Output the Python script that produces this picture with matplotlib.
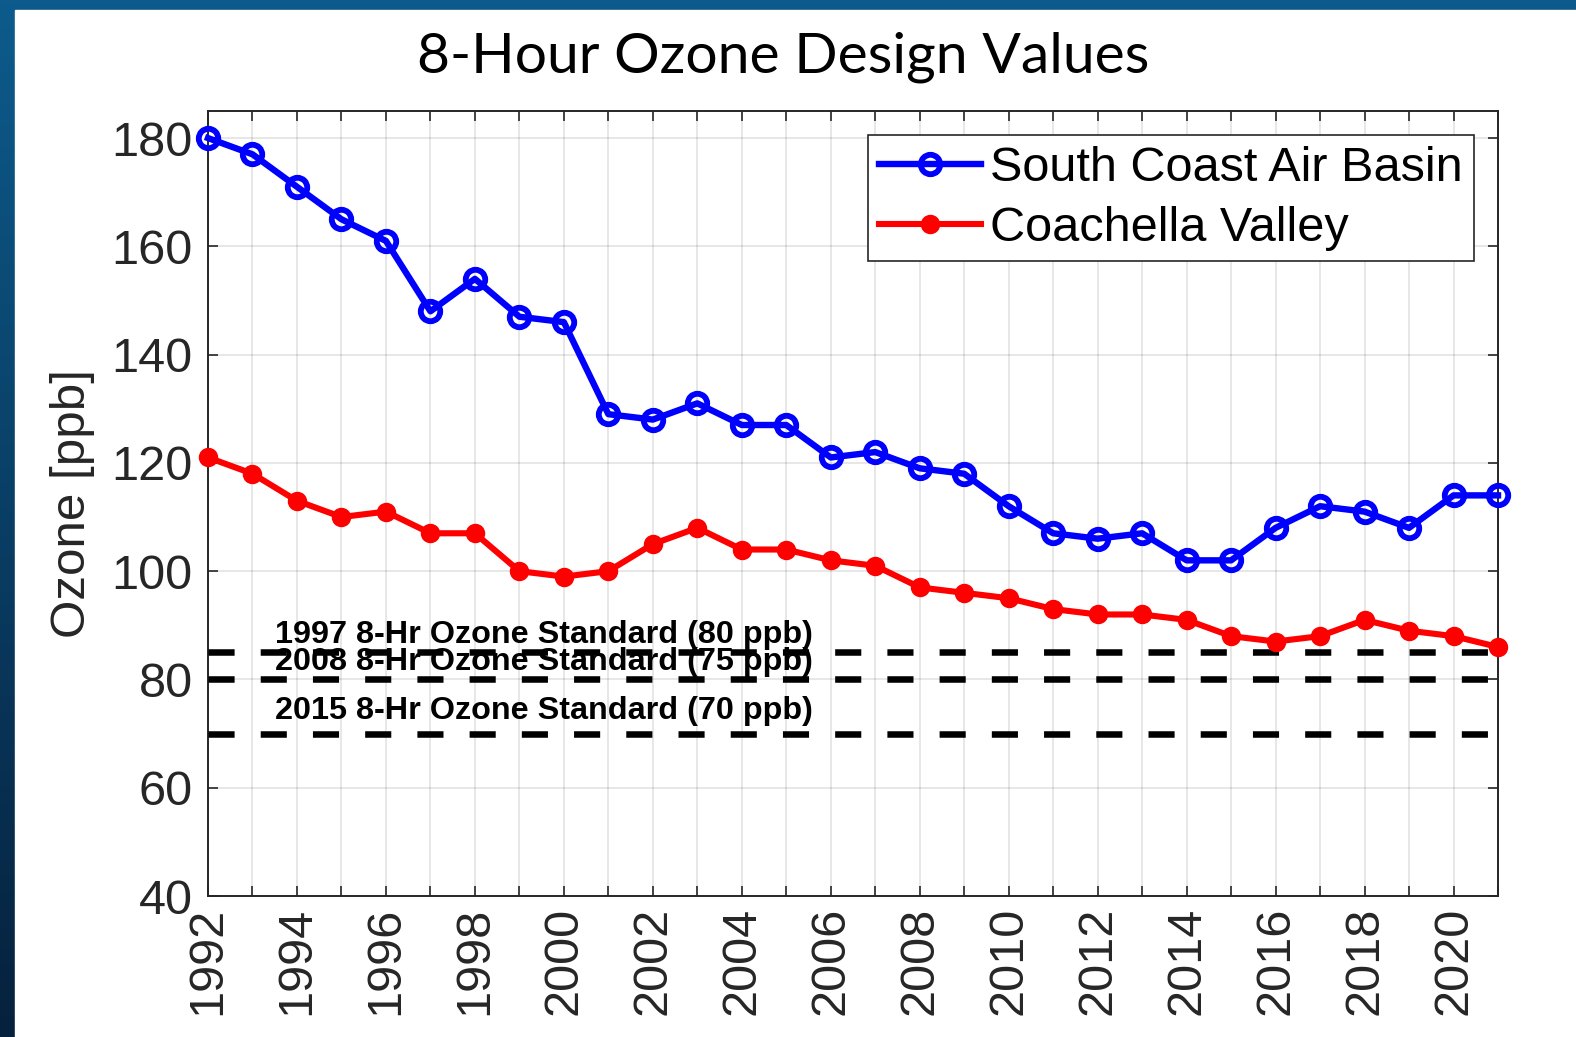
import matplotlib.pyplot as plt
import matplotlib.patches as mpatches
import numpy as np

# data
years = list(range(1992, 2022))
south_coast = [180, 177, 171, 165, 161, 148, 154, 147, 146, 129,
               128, 131, 127, 127, 121, 122, 119, 118, 112, 107,
               106, 107, 102, 102, 108, 112, 111, 108, 114, 114]
coachella = [121, 118, 113, 110, 111, 107, 107, 100, 99, 100,
             105, 108, 104, 104, 102, 101, 97, 96, 95, 93,
             92, 92, 91, 88, 87, 88, 91, 89, 88, 86]
std_levels = [85, 80, 70]
std_labels = ['1997 8-Hr Ozone Standard (80 ppb)',
              '2008 8-Hr Ozone Standard (75 ppb)',
              '2015 8-Hr Ozone Standard (70 ppb)']
std_label_y = [88.2, 83.2, 74.2]

plt.rcParams['font.family'] = ['Liberation Sans', 'DejaVu Sans']
W, H = 1576, 1037
fig = plt.figure(figsize=(W / 100, H / 100), dpi=100)

# slide background: blue gradient frame with a white panel
bg = fig.add_axes([0, 0, 1, 1], zorder=-10)
grad = np.linspace(0, 1, 256).reshape(-1, 1)
bg.imshow(grad, aspect='auto', extent=[0, 1, 0, 1],
          cmap=plt.matplotlib.colors.LinearSegmentedColormap.from_list(
              'bg', ['#06213d', '#0d5b8c']), origin='lower')
bg.add_patch(mpatches.Rectangle((15 / W, 0), 1, 1 - 10 / H, color='white'))
bg.set_xlim(0, 1)
bg.set_ylim(0, 1)
bg.axis('off')

ax = fig.add_axes([208 / W, 1 - 896 / H, (1498 - 208) / W, (896 - 111) / H])
ax.set_facecolor('white')

ax.plot(years, south_coast, color='#0000ff', lw=4.6, marker='o', ms=14,
        mfc='none', mew=4.2, label='South Coast Air Basin', zorder=5, clip_on=False)
ax.plot(years, coachella, color='#ff0000', lw=4.4, marker='o', ms=10,
        mew=4, label='Coachella Valley', zorder=5, clip_on=False)

for lvl, txt, ty in zip(std_levels, std_labels, std_label_y):
    ax.axhline(lvl, color='black', lw=4.7, ls=(0, (4, 4)), zorder=3)
    ax.text(1999.55, ty, txt, ha='center', va='center', fontsize=23.3,
            fontweight='bold', color='black', zorder=4)

ax.set_xlim(1992, 2021)
ax.set_ylim(40, 185)
ax.set_xticks(years)
ax.set_xticklabels([str(y) if y % 2 == 0 else '' for y in years], rotation=90)
ax.set_yticks(range(40, 181, 20))
ax.tick_params(direction='in', length=7, width=1.2, colors='#262626',
               labelsize=35, top=True, right=True)
ax.tick_params(axis='y', pad=11)
ax.tick_params(axis='x', pad=8)
ax.grid(True, color='#262626', alpha=0.13, lw=1.2)
for s in ax.spines.values():
    s.set_color('#262626')
    s.set_linewidth(1.4)

ax.set_ylabel('Ozone [ppb]', fontsize=35.5, color='#262626', labelpad=12)

leg = ax.legend(loc='upper right', fontsize=35, borderaxespad=0.5,
                fancybox=False, framealpha=1, edgecolor='#262626',
                handlelength=2.1, handletextpad=0.2, labelspacing=0.3,
                borderpad=0.22)
leg.get_frame().set_linewidth(1.2)

fig.text(783 / W, 1 - 57 / H, '8-Hour Ozone Design Values',
         family=['Lato', 'DejaVu Sans'], fontsize=41, ha='center', va='center',
         color='black')

fig.savefig('out.png', dpi=100)
